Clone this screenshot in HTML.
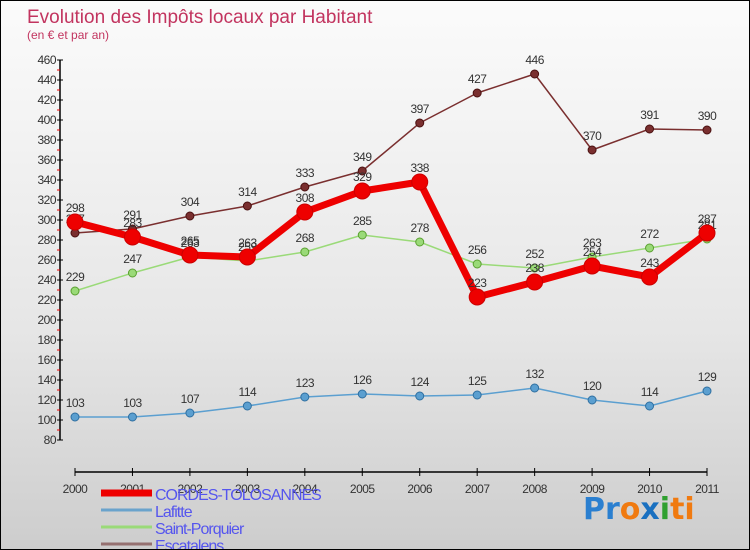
<!DOCTYPE html>
<html><head><meta charset="utf-8"><style>
html,body{margin:0;padding:0}
body{width:750px;height:550px;overflow:hidden;font-family:"Liberation Sans",sans-serif}
#wrap{position:relative;width:748px;height:548px;border:1px solid #000;background:linear-gradient(#fbfbfb,#e6e6e6 60%,#cdcdcd)}
</style></head><body>
<div id="wrap">
<svg id="chart" width="748" height="548" style="position:absolute;left:0;top:0">
<text x="26" y="22" font-size="19" fill="#c2345f">Evolution des Impôts locaux par Habitant</text>
<text x="26" y="38" font-size="12" fill="#c2345f">(en € et par an)</text>
<g id="axes"></g><g id="series"></g><g id="legend"></g>
<text x="582" y="518" font-size="30" font-weight="bold" font-family="DejaVu Sans,sans-serif"><tspan fill="#2a7fd0">Pr</tspan><tspan fill="#f07a10">o</tspan><tspan fill="#1a70c0">x</tspan><tspan fill="#30a030">i</tspan><tspan fill="#f07a10">ti</tspan></text>
</svg>
</div>
<script>
const years=[2000,2001,2002,2003,2004,2005,2006,2007,2008,2009,2010,2011];
const yTicks=[80,100,120,140,160,180,200,220,240,260,280,300,320,340,360,380,400,420,440,460];
const cordes=[298,283,265,263,308,329,338,223,238,254,243,287];
const lafitte=[103,103,107,114,123,126,124,125,132,120,114,129];
const stPorquier=[229,247,263,259,268,285,278,256,252,263,272,281];
const escatalens=[287,291,304,314,333,349,397,427,446,370,391,390];
const NS="http://www.w3.org/2000/svg";
const X=i=>74+i*(632/11);
const Y=v=>519-(v-80)*(380/380)-79+79- (0) ; // placeholder replaced below
function y(v){return 439-(v-80);}
function mk(t,a,p){const e=document.createElementNS(NS,t);for(const k in a)e.setAttribute(k,a[k]);p.appendChild(e);return e;}
const axes=document.getElementById('axes');
let e=mk('line',{x1:59,y1:y(460),x2:59,y2:y(80),stroke:'#000','stroke-width':1.5},axes);

e=mk('line',{x1:74,y1:471,x2:706,y2:471,stroke:'#000','stroke-width':1.5},axes);

yTicks.forEach((v,i)=>{
 mk('line',{x1:56,y1:y(v),x2:62,y2:y(v),stroke:'#000'},axes);
 if(i<yTicks.length-1)mk('line',{x1:56,y1:y(v+10),x2:59,y2:y(v+10),stroke:'#e00'},axes);
 const t=mk('text',{x:55,y:y(v)+4,'font-size':12,'text-anchor':'end',fill:'#333','letter-spacing':'-0.5'},axes);t.textContent=v;
 
 
});
years.forEach((yr,i)=>{
 mk('line',{x1:X(i),y1:467,x2:X(i),y2:475,stroke:'#000'},axes);
 const t=mk('text',{x:X(i),y:492,'font-size':12,'text-anchor':'middle',fill:'#333','letter-spacing':'-0.5'},axes);t.textContent=yr;
 
 
});
const ser=document.getElementById('series');
function draw(vals,name,color,w,r,stroke){
 const g=mk('g',{},ser);
 
 
 const pl=mk('polyline',{points:vals.map((v,i)=>X(i)+','+y(v)).join(' '),fill:'none',stroke:color,'stroke-width':w,'stroke-linejoin':'round'},g);
 
 
 vals.forEach((v,i)=>{
  const c=mk('circle',{cx:X(i),cy:y(v),r:r,fill:color,stroke:stroke,'stroke-width':1},g);
  
  
  const t=mk('text',{x:X(i),y:y(v)-10,'font-size':12,'text-anchor':'middle',fill:'#333','letter-spacing':'-0.5'},g);t.textContent=v;
  
  
 });
}
draw(lafitte,'lafitte','#5b9fd0',1.5,4,'#2f6fa0');
draw(stPorquier,'saint-porquier','#9ada78',1.5,4,'#5aa030');
draw(escatalens,'escatalens','#7a2f2f',1.5,4,'#4a1010');
draw(cordes,'cordes-tolosannes','#ee0000',7,8,'#cc0000');
const lg=document.getElementById('legend');
const items=[['CORDES-TOLOSANNES','#ee0000',7],['Lafitte','#6aa3cc',3],['Saint-Porquier','#9ada78',3],['Escatalens','#957070',3]];
items.forEach((it,i)=>{
 const yy=492+i*17;
 const l=mk('line',{x1:100,y1:yy,x2:151,y2:yy,stroke:it[1],'stroke-width':it[2]},lg);
 
 
 const t=mk('text',{x:154,y:yy+7,'font-size':16,fill:'#5555ee','letter-spacing':'-1'},lg);t.textContent=it[0];
 
 
});
</script>
</body></html>
